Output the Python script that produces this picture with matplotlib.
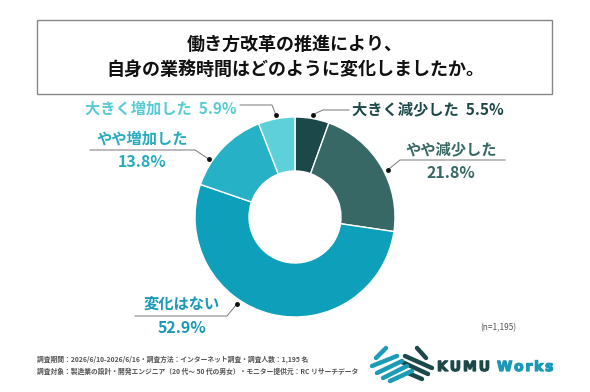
import numpy as np
import matplotlib
matplotlib.use("Agg")
import matplotlib.pyplot as plt
import matplotlib.patheffects as pe
from matplotlib.patches import Rectangle

plt.rcParams['font.family'] = ['Noto Sans CJK JP', 'DejaVu Sans']

# データ（n=1,195）
categories = ['大きく減少した', 'やや減少した', '変化はない', 'やや増加した', '大きく増加した']
values = [5.5, 21.8, 52.9, 13.8, 5.9]
value_labels = ['5.5%', '21.8%', '52.9%', '13.8%', '5.9%']

colors = ['#1d4849', '#386866', '#0ea0ba', '#27b1c6', '#5dd0d9']
text_colors = ['#1d4849', '#386866', '#1a98b6', '#27abc0', '#58cbd4']

title = '働き方改革の推進により、\n自身の業務時間はどのように変化しましたか。'
footer = ['調査期間：2026/6/10-2026/6/16・調査方法：インターネット調査・調査人数：1,195 名',
          '調査対象：製造業の設計・開発エンジニア（20 代～ 50 代の男女）・モニター提供元：RC リサーチデータ']

W, H = 590, 392
fig = plt.figure(figsize=(W / 100, H / 100), dpi=100)
ax = fig.add_axes([0, 0, 1, 1])

cx, cy, R = 295, 217, 100
wedges, _ = ax.pie(values, colors=colors, startangle=-90, counterclock=True,
                   center=(cx, cy), radius=R,
                   wedgeprops=dict(width=54, edgecolor='white', linewidth=1))
ax.set_xlim(0, W)
ax.set_ylim(H, 0)
ax.set_aspect('equal')
ax.axis('off')

# タイトル枠
ax.add_patch(Rectangle((37, 20), 515, 74, fill=False, edgecolor='#888888', linewidth=1))
ax.text(cx, 57, title, ha='center', va='center', fontsize=13, fontweight='bold',
        color='#111111', linespacing=1.45)

# ラベルと引き出し線（レイアウト）
shift = [0, 4, 20, -10, 0]
elbow = [(323, 110), (400, 160), (227, 316), (195, 150), (272, 105)]
line_end = [(349, 110), (505, 160), (135, 316), (90, 150), (240, 105)]
for i, w in enumerate(wedges):
    ang = np.deg2rad((w.theta1 + w.theta2) / 2 + shift[i])
    dx, dy = cx + 104 * np.cos(ang), cy + 104 * np.sin(ang)
    ax.plot([dx, elbow[i][0], line_end[i][0]], [dy, elbow[i][1], line_end[i][1]],
            color='#777777', lw=0.7, zorder=3)
    ax.plot(dx, dy, 'o', color='#111111', ms=2.5, zorder=4)

ax.text(352, 109, categories[0] + '  ' + value_labels[0], ha='left', va='center',
        fontsize=11, fontweight='bold', color=text_colors[0])
ax.text(237, 109, categories[4] + '  ' + value_labels[4], ha='right', va='center',
        fontsize=11, fontweight='bold', color=text_colors[4])
two_line = {1: (451, 149, 173), 2: (182, 304, 328), 3: (142, 139, 162)}
for i, (x, y1, y2) in two_line.items():
    ax.text(x, y1, categories[i], ha='center', va='center', fontsize=11,
            fontweight='bold', color=text_colors[i])
    ax.text(x, y2, value_labels[i], ha='center', va='center', fontsize=11.5,
            fontweight='bold', color=text_colors[i])

ax.text(498, 328, '(n=1,195)', ha='center', va='center', fontsize=6, color='#555555')
ax.text(37, 359, footer[0], ha='left', va='center', fontsize=4.9, fontweight='bold',
        color='#555555')
ax.text(37, 371, footer[1], ha='left', va='center', fontsize=4.9, fontweight='bold',
        color='#555555')

# ロゴ
dark_bars = [((417, 348), (426, 358)), ((405, 356), (432, 368)),
             ((402, 362), (428, 374)), ((408, 373), (422, 379))]
teal_bars = [((376, 358), (386, 348)), ((372, 366), (397, 356)), ((377, 373), (402, 361)),
             ((383, 378), (407, 366)), ((390, 381), (412, 371))]
for (x0, y0), (x1, y1) in dark_bars:
    ax.plot([x0, x1], [y0, y1], color='#1d4849', lw=3.2, solid_capstyle='round', zorder=5)
for (x0, y0), (x1, y1) in teal_bars:
    ax.plot([x0, x1], [y0, y1], color='#1a9cb6', lw=3.2, solid_capstyle='round', zorder=6)

renderer = fig.canvas.get_renderer()
inv = ax.transData.inverted()


def spaced(word, x, color, gap):
    for ch in word:
        t = ax.text(x, 367, ch, ha='left', va='center', fontsize=10,
                    fontweight='bold', color=color, family='DejaVu Sans',
                    path_effects=[pe.withStroke(linewidth=0.9, foreground=color)])
        bb = t.get_window_extent(renderer)
        x0 = inv.transform((bb.x0, 0))[0]
        x1 = inv.transform((bb.x1, 0))[0]
        x += (x1 - x0) + gap


spaced('KUMU', 437, '#1d4849', 2.0)
spaced('Works', 497, '#1a98b6', 1.8)

fig.savefig('out.png', dpi=100)
